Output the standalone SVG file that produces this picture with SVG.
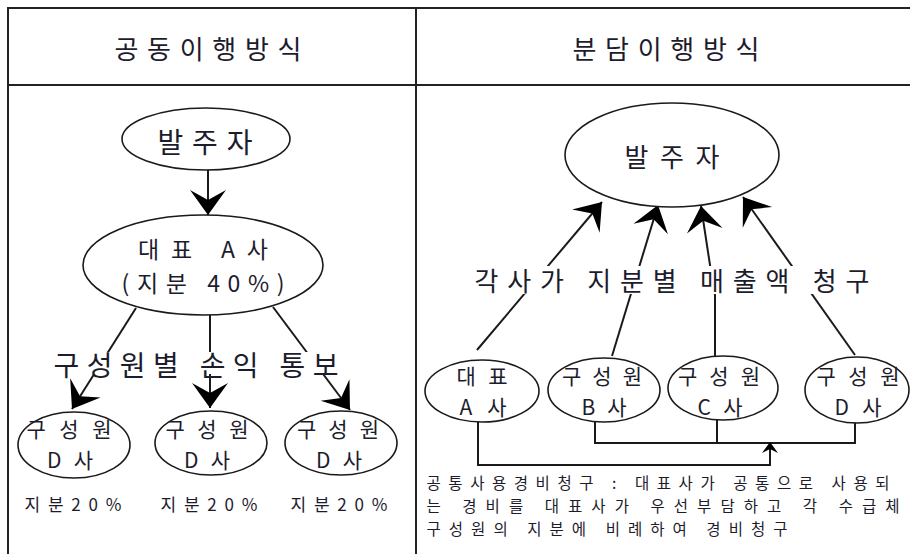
<svg xmlns="http://www.w3.org/2000/svg" width="910" height="554" viewBox="0 0 910 554">
<defs>
<style>
.t{font-family:"Noto Sans CJK KR","Noto Sans",sans-serif;fill:#1c1c2c;text-anchor:middle;dominant-baseline:central}
.frame{stroke:#222;stroke-width:2;fill:none}
.node{fill:#fff;stroke:#1a1a1a;stroke-width:1.6}
.c{stroke:#1a1a1a;stroke-width:2;fill:none}
.lab{fill:#fff;stroke:none}
</style>
<marker id="ah" viewBox="-26 -19 28 38" refX="0" refY="0" markerWidth="28" markerHeight="38" markerUnits="userSpaceOnUse" orient="auto">
<path d="M0,0 L-25,-18 L-15,0 L-25,18 Z" fill="#000"/>
</marker>
<marker id="sah" viewBox="-12 -9 13 18" refX="0" refY="0" markerWidth="13" markerHeight="18" markerUnits="userSpaceOnUse" orient="auto">
<path d="M0,0 L-11,-8 L-7,0 L-11,8 Z" fill="#000"/>
</marker>
</defs>
<rect width="910" height="554" fill="#fff"/>

<g id="table">
<line class="frame" x1="7" y1="8" x2="910" y2="8"/>
<line class="frame" x1="7" y1="85" x2="910" y2="85"/>
<line class="frame" x1="8" y1="7" x2="8" y2="554"/>
<line class="frame" x1="416" y1="7" x2="416" y2="554"/>
<text class="t" x="208" y="47" font-size="26" textLength="187" lengthAdjust="spacing">공동이행방식</text>
<text class="t" x="666" y="47" font-size="26" textLength="187" lengthAdjust="spacing">분담이행방식</text>
</g>

<g id="connectors">
<line class="c" x1="208" y1="170" x2="208" y2="215" marker-end="url(#ah)"/>
<line class="c" x1="136" y1="308" x2="72" y2="409" marker-end="url(#ah)"/>
<line class="c" x1="210" y1="315" x2="210" y2="408" marker-end="url(#ah)"/>
<line class="c" x1="273" y1="307" x2="350" y2="410" marker-end="url(#ah)"/>
<line class="c" x1="477" y1="350" x2="602" y2="202" marker-end="url(#ah)"/>
<line class="c" x1="612" y1="356" x2="658" y2="205" marker-end="url(#ah)"/>
<polyline class="c" points="715,358 715,295 710,265 701,206" marker-end="url(#ah)"/>
<line class="c" x1="855" y1="355" x2="743" y2="197" marker-end="url(#ah)"/>
<polyline class="c" points="595,422 595,443 855,443 855,421"/>
<line class="c" x1="717" y1="419" x2="717" y2="443"/>
<polyline class="c" points="478,421 478,465 770,465 770,442" marker-end="url(#sah)"/>
<rect class="lab" x="50" y="352" width="292" height="22"/>
<text class="t" x="196" y="364" font-size="28" textLength="285" lengthAdjust="spacing">구성원별 손익 통보</text>
<rect class="lab" x="470" y="266" width="405" height="28"/>
<text class="t" x="672" y="279" font-size="26" textLength="395" lengthAdjust="spacing">각사가 지분별 매출액 청구</text>
</g>

<g id="client-left">
<ellipse class="node" cx="206" cy="139" rx="84" ry="31"/>
<text class="t" x="205" y="141" font-size="28" textLength="95" lengthAdjust="spacing">발주자</text>
</g>
<g id="lead-a">
<ellipse class="node" cx="203" cy="265" rx="120" ry="50"/>
<text class="t" x="203" y="248" font-size="23" textLength="130" lengthAdjust="spacing">대표 A사</text>
<text class="t" x="203" y="282" font-size="23" textLength="163" lengthAdjust="spacing">(지분 40%)</text>
</g>
<g id="member-d1">
<ellipse class="node" cx="74" cy="445" rx="56" ry="33"/>
<text class="t" x="69" y="428" font-size="21" textLength="85" lengthAdjust="spacing">구성원</text>
<text class="t" x="70" y="459" font-size="21" textLength="46" lengthAdjust="spacing">D사</text>
<text class="t" x="73" y="503" font-size="17" textLength="97" lengthAdjust="spacing">지분20%</text>
</g>
<g id="member-d2">
<ellipse class="node" cx="211" cy="443" rx="56" ry="32"/>
<text class="t" x="207" y="428" font-size="21" textLength="83" lengthAdjust="spacing">구성원</text>
<text class="t" x="207" y="459" font-size="21" textLength="46" lengthAdjust="spacing">D사</text>
<text class="t" x="209" y="503" font-size="17" textLength="97" lengthAdjust="spacing">지분20%</text>
</g>
<g id="member-d3">
<ellipse class="node" cx="341" cy="443" rx="56" ry="32"/>
<text class="t" x="338" y="428" font-size="21" textLength="82" lengthAdjust="spacing">구성원</text>
<text class="t" x="339" y="459" font-size="21" textLength="46" lengthAdjust="spacing">D사</text>
<text class="t" x="339" y="503" font-size="17" textLength="97" lengthAdjust="spacing">지분20%</text>
</g>

<g id="client-right">
<ellipse class="node" cx="672" cy="155" rx="107" ry="52"/>
<text class="t" x="672" y="155" font-size="26" textLength="95" lengthAdjust="spacing">발주자</text>
</g>
<g id="rep-a">
<ellipse class="node" cx="482" cy="391" rx="57" ry="31"/>
<text class="t" x="482" y="375" font-size="21" textLength="51" lengthAdjust="spacing">대표</text>
<text class="t" x="483" y="406" font-size="21" textLength="47" lengthAdjust="spacing">A사</text>
</g>
<g id="member-b">
<ellipse class="node" cx="604" cy="390" rx="56" ry="32"/>
<text class="t" x="602" y="375" font-size="21" textLength="80" lengthAdjust="spacing">구성원</text>
<text class="t" x="604" y="406" font-size="21" textLength="45" lengthAdjust="spacing">B사</text>
</g>
<g id="member-c">
<ellipse class="node" cx="723" cy="388" rx="55" ry="32"/>
<text class="t" x="719" y="375" font-size="21" textLength="82" lengthAdjust="spacing">구성원</text>
<text class="t" x="720" y="406" font-size="21" textLength="45" lengthAdjust="spacing">C사</text>
</g>
<g id="member-d">
<ellipse class="node" cx="857" cy="390" rx="52" ry="33"/>
<text class="t" x="858" y="375" font-size="21" textLength="83" lengthAdjust="spacing">구성원</text>
<text class="t" x="858" y="406" font-size="21" textLength="47" lengthAdjust="spacing">D사</text>
</g>

<g id="note">
<text class="t" x="658" y="482" font-size="15.5" textLength="463" lengthAdjust="spacing">공통사용경비청구 : 대표사가 공통으로 사용되</text>
<text class="t" x="663" y="505" font-size="15.5" textLength="473" lengthAdjust="spacing">는 경비를 대표사가 우선부담하고 각 수급체</text>
<text class="t" x="607" y="528" font-size="15.5" textLength="361" lengthAdjust="spacing">구성원의 지분에 비례하여 경비청구</text>
</g>
</svg>
